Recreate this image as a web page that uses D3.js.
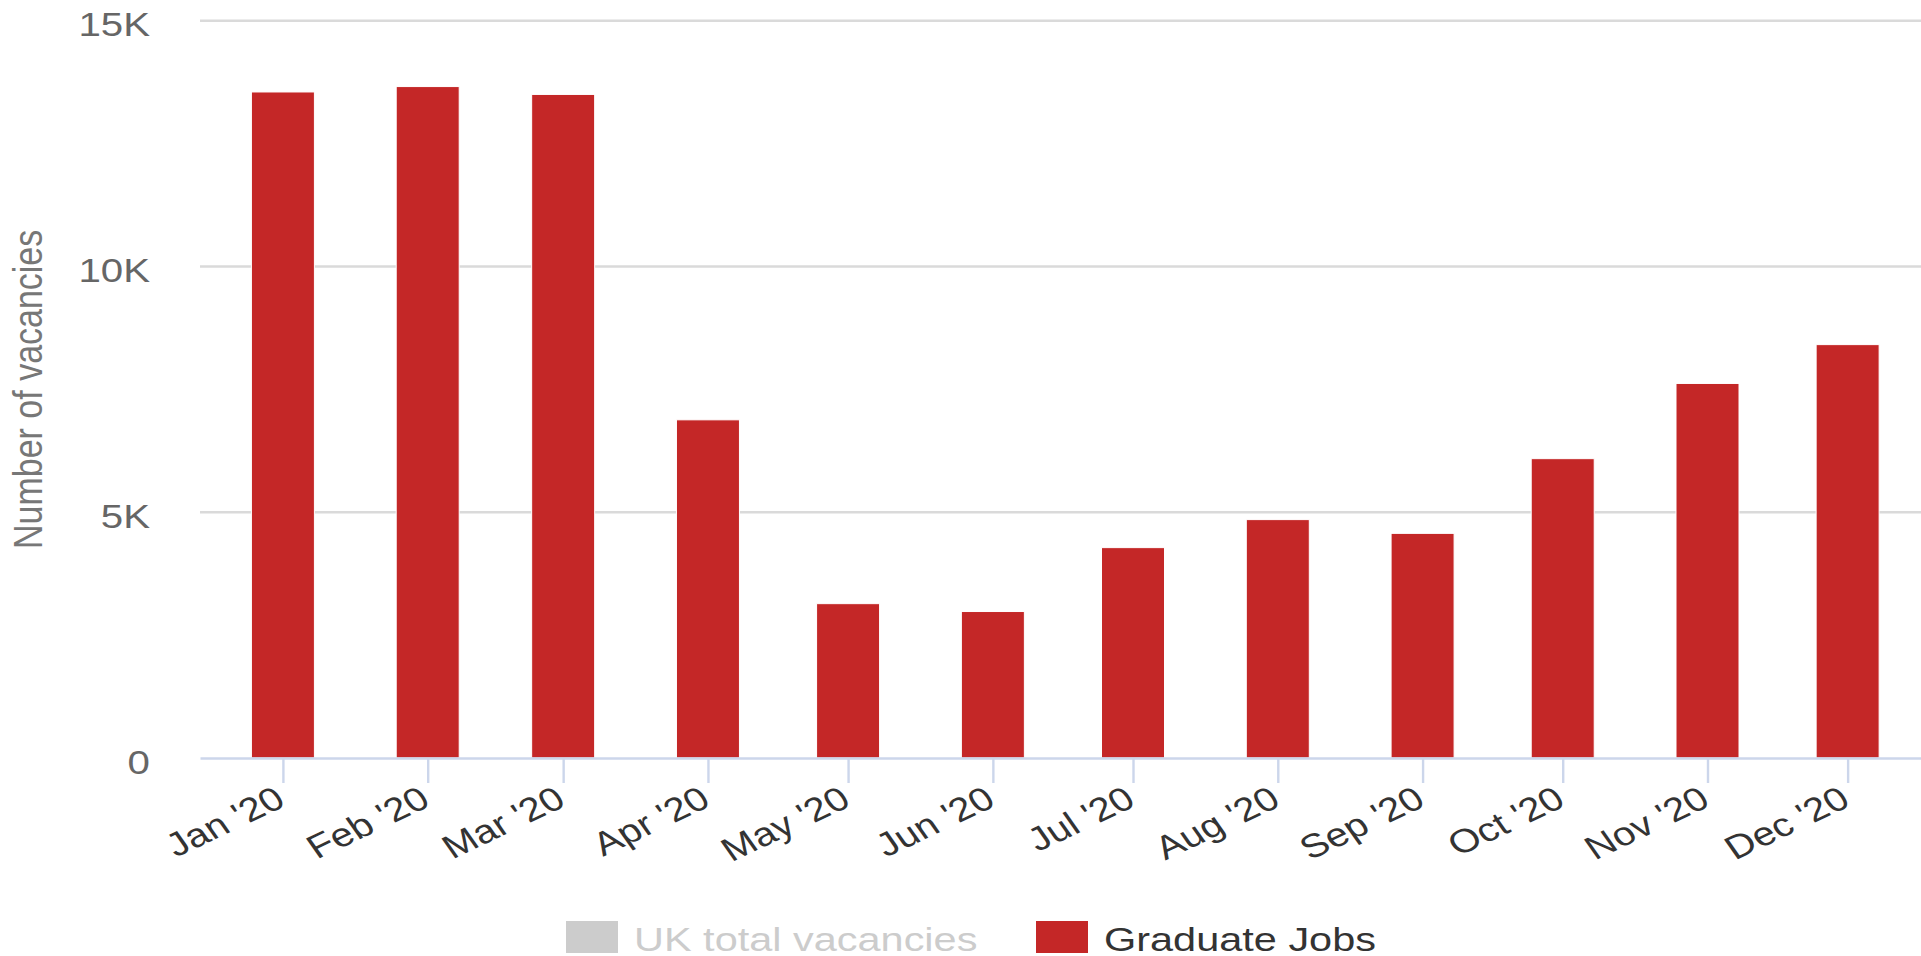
<!DOCTYPE html>
<html>
<head>
<meta charset="utf-8">
<script src="https://cdn.jsdelivr.net/npm/d3@7"></script>
<style>
  html, body { margin: 0; padding: 0; background: #fff; }
  svg { display: block; }
  text { font-family: "Liberation Sans", Arial, sans-serif; }
</style>
</head>
<body>
<div id="chart"></div>
<script>
// data
var months = ["2020-01-01", "2020-02-01", "2020-03-01", "2020-04-01", "2020-05-01", "2020-06-01",
              "2020-07-01", "2020-08-01", "2020-09-01", "2020-10-01", "2020-11-01", "2020-12-01"];
var graduateJobs = [13550, 13660, 13500, 6880, 3140, 2980, 4280, 4850, 4570, 6090, 7620, 8410];
var yTicks = [0, 5000, 10000, 15000];
var legendNames = ["UK total vacancies", "Graduate Jobs"];

var w = 1921;
var h = 956;
// text in the reference is a bit wider than normal, so every label gets a sideways scale
var stretch = 1.22;
function wide(x, y, rot) {
    return "translate(" + x + "," + y + ") scale(" + stretch + ",1)" + (rot ? " rotate(" + rot + ")" : "");
}

var svg = d3.select("#chart")
    .append("svg")
    .attr("width", w)
    .attr("height", h);

var plotLeft = 200, plotRight = w, plotTop = 20.7, plotBottom = 758;

var parse = d3.utcParse("%Y-%m-%d");
var dates = months.map(parse);

var xScale = d3.scaleUtc()
    .domain([new Date(Date.UTC(2019, 11, 14, 6)), new Date(Date.UTC(2020, 11, 16, 17))])
    .range([plotLeft, plotRight]);
var yScale = d3.scaleLinear()
    .domain([0, 15000])
    .range([plotBottom, plotTop]);

// grid lines (0 is covered by the x axis line)
svg.append("g")
    .selectAll("line")
    .data(yTicks.filter(function(d) { return d > 0; }))
    .enter()
    .append("line")
    .attr("x1", plotLeft)
    .attr("x2", plotRight)
    .attr("y1", function(d) { return yScale(d); })
    .attr("y2", function(d) { return yScale(d); })
    .attr("stroke", "#dadada")
    .attr("stroke-width", 2.4);

// bars
var barWidth = 63;
svg.append("g")
    .selectAll("rect")
    .data(graduateJobs)
    .enter()
    .append("rect")
    .attr("x", function(d, i) { return xScale(dates[i]) - barWidth / 2; })
    .attr("y", function(d) { return yScale(d); })
    .attr("width", barWidth)
    .attr("height", function(d) { return yScale(0) - yScale(d); })
    .attr("fill", "#c42727")
    .attr("stroke", "#fff")
    .attr("stroke-width", 1);

// x axis
var xAxis = d3.axisBottom(xScale)
    .tickValues(dates)
    .tickFormat(d3.utcFormat("%b '%y"))
    .tickSize(25)
    .tickSizeOuter(0);
var xg = svg.append("g")
    .attr("transform", "translate(0," + plotBottom + ")")
    .call(xAxis);
xg.select(".domain").attr("stroke", "#ccd6eb").attr("stroke-width", 2.4);
xg.selectAll(".tick line").attr("stroke", "#ccd6eb").attr("stroke-width", 2.4);
xg.selectAll(".tick text")
    .attr("x", 0)
    .attr("y", 0)
    .attr("dy", 0)
    .attr("text-anchor", "end")
    .attr("transform", wide(4, 47, -30))
    .attr("fill", "#333")
    .attr("font-size", 33);

// y axis
var yAxis = d3.axisLeft(yScale)
    .tickValues(yTicks)
    .tickFormat(function(d) { return d === 0 ? "0" : d / 1000 + "K"; })
    .tickSize(0);
var yg = svg.append("g")
    .attr("transform", "translate(" + plotLeft + ",0)")
    .call(yAxis);
yg.select(".domain").remove();
yg.selectAll(".tick text")
    .attr("x", 0)
    .attr("dy", 0)
    .attr("text-anchor", "end")
    .attr("transform", wide(-50, 15))
    .attr("fill", "#666")
    .attr("font-size", 33);

svg.append("text")
    .attr("transform", wide(28, (plotTop + plotBottom) / 2, -90))
    .attr("text-anchor", "middle")
    .attr("dominant-baseline", "central")
    .attr("fill", "#777")
    .attr("font-size", 34)
    .text("Number of vacancies");

// legend (first series is switched off, so greyed out)
var legendX = [566, 1036];
var legendColor = ["#cccccc", "#c42727"];
var legendText = ["#cccccc", "#333333"];
var legend = svg.append("g")
    .selectAll("g")
    .data(legendNames)
    .enter()
    .append("g")
    .attr("transform", function(d, i) { return "translate(" + legendX[i] + ",921)"; });
legend.append("rect")
    .attr("width", 52)
    .attr("height", 32)
    .attr("fill", function(d, i) { return legendColor[i]; });
legend.append("text")
    .attr("transform", wide(68, 30))
    .attr("fill", function(d, i) { return legendText[i]; })
    .attr("font-size", 34)
    .text(function(d) { return d; });
</script>
</body>
</html>
